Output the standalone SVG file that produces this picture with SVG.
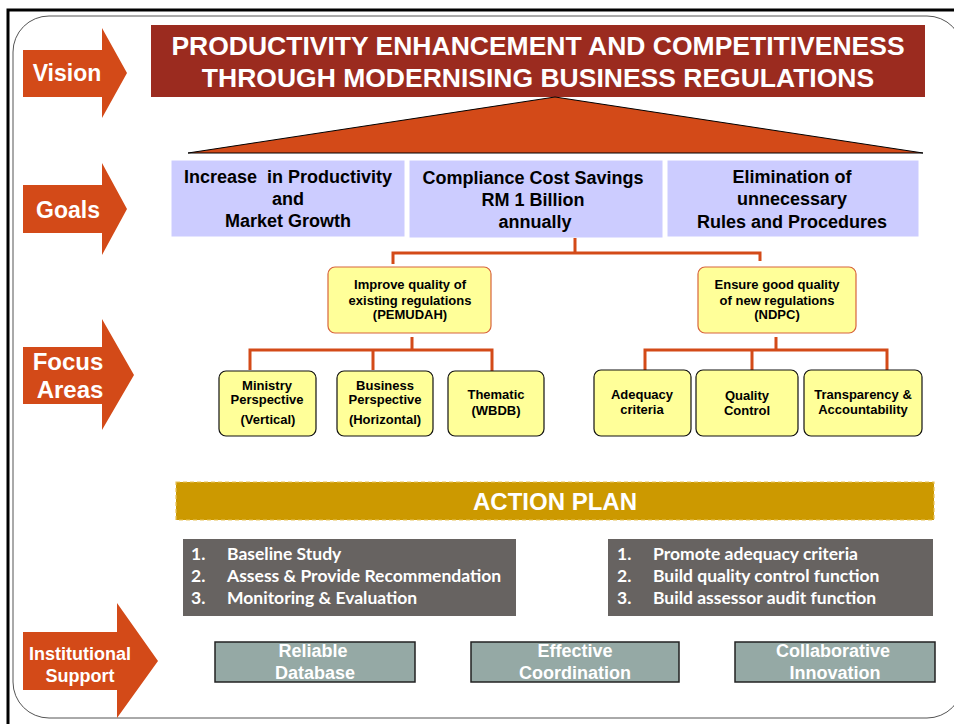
<svg xmlns="http://www.w3.org/2000/svg" width="954" height="724" viewBox="0 0 954 724">
<style>
.arrow{fill:#D34A18}
.lbl{font-family:"Liberation Sans",Arial,sans-serif;font-weight:bold;fill:#fff;text-anchor:middle}
.goal{fill:#CCCCFF;stroke:#fff;stroke-width:1}
.gt{font-family:"Liberation Sans",Arial,sans-serif;font-weight:bold;font-size:18px;fill:#000;text-anchor:middle;white-space:pre}
.fa{fill:#FFFF99;stroke:#D8643C;stroke-width:1.2}
.fb{fill:#FFFF99;stroke:#111;stroke-width:1.2}
.ft{font-family:"Liberation Sans",Arial,sans-serif;font-weight:bold;font-size:13px;fill:#000;text-anchor:middle}
.conn{fill:none;stroke:#D34A18;stroke-width:3}
.gray{fill:#676361}
.gtx{font-family:Lato,"Open Sans",sans-serif;font-weight:bold;font-size:17.5px;fill:#fff}
.inst{fill:#95A9A5;stroke:#222;stroke-width:1.5}
.it{font-family:"Liberation Sans",Arial,sans-serif;font-weight:bold;font-size:18px;fill:#fff;text-anchor:middle}
</style>
<rect x="0" y="0" width="954" height="724" fill="#fff"/>
<rect x="8" y="10" width="1000" height="800" fill="none" stroke="#000" stroke-width="3"/>
<rect x="13" y="16" width="950" height="702" rx="36" ry="36" fill="#fff" stroke="#555" stroke-width="1"/>

<g id="vision-arrow">
<polygon class="arrow" points="23,50 102,50 102,28 127,73 102,118 102,97 23,97"/>
<text class="lbl" x="67" y="81" font-size="23">Vision</text>
</g>
<g id="goals-arrow">
<polygon class="arrow" points="23,185 102,185 102,163 127,209 102,255 102,233 23,233"/>
<text class="lbl" x="68" y="218" font-size="23">Goals</text>
</g>
<g id="focus-arrow">
<polygon class="arrow" points="23,347 102,347 102,319 134,375 102,430 102,404 23,404"/>
<text class="lbl" x="68" y="370" font-size="24">Focus</text>
<text class="lbl" x="70" y="398" font-size="24">Areas</text>
</g>
<g id="institutional-arrow">
<polygon class="arrow" points="23,632 117,632 117,603 158,661 117,718 117,690 23,690"/>
<text class="lbl" x="80" y="660" font-size="18">Institutional</text>
<text class="lbl" x="80" y="682" font-size="18">Support</text>
</g>

<g id="vision">
<rect x="151" y="25" width="774" height="72" fill="#9B2B1F"/>
<text class="lbl" x="538" y="55" font-size="26.5">PRODUCTIVITY ENHANCEMENT AND COMPETITIVENESS</text>
<text class="lbl" x="538" y="87" font-size="26.5">THROUGH MODERNISING BUSINESS REGULATIONS</text>
</g>
<g id="triangle">
<polygon points="555,97 188,153 923,153" fill="#D34A18" stroke="#000" stroke-width="1"/>
</g>

<g id="goal1">
<rect class="goal" x="171" y="160" width="234" height="77"/>
<text class="gt" x="288" y="183" xml:space="preserve">Increase  in Productivity</text>
<text class="gt" x="288" y="205">and</text>
<text class="gt" x="288" y="227">Market Growth</text>
</g>
<g id="goal2">
<rect class="goal" x="409" y="160" width="254" height="78"/>
<text class="gt" x="533" y="184">Compliance Cost Savings</text>
<text class="gt" x="533" y="206">RM 1 Billion</text>
<text class="gt" x="535" y="228">annually</text>
</g>
<g id="goal3">
<rect class="goal" x="667" y="160" width="252" height="77"/>
<text class="gt" x="792" y="183">Elimination of</text>
<text class="gt" x="792" y="205">unnecessary</text>
<text class="gt" x="792" y="228">Rules and Procedures</text>
</g>

<g id="connectors">
<path class="conn" d="M575,238 V253 M393,253 H760 M393,251.5 V264 M760,251.5 V261"/>
<path class="conn" d="M412,337 V350 M250,350 H492 M250,348.5 V370 M373,348.5 V370 M492,348.5 V372"/>
<path class="conn" d="M776,337 V350 M645,350 H887 M645,348.5 V372 M752,348.5 V372 M887,348.5 V372"/>
</g>

<g id="pemudah">
<rect class="fa" x="328" y="267" width="163" height="66" rx="7"/>
<text class="ft" x="410" y="289">Improve quality of</text>
<text class="ft" x="410" y="305">existing regulations</text>
<text class="ft" x="410" y="319">(PEMUDAH)</text>
</g>
<g id="ndpc">
<rect class="fa" x="698" y="267" width="158" height="66" rx="7"/>
<text class="ft" x="777" y="289">Ensure good quality</text>
<text class="ft" x="777" y="305">of new regulations</text>
<text class="ft" x="777" y="319">(NDPC)</text>
</g>

<g id="ministry">
<rect class="fb" x="219" y="371" width="97" height="65" rx="7"/>
<text class="ft" x="267" y="390">Ministry</text>
<text class="ft" x="267" y="404">Perspective</text>
<text class="ft" x="268" y="424">(Vertical)</text>
</g>
<g id="business">
<rect class="fb" x="337" y="371" width="96" height="65" rx="7"/>
<text class="ft" x="385" y="390">Business</text>
<text class="ft" x="385" y="404">Perspective</text>
<text class="ft" x="385" y="424">(Horizontal)</text>
</g>
<g id="thematic">
<rect class="fb" x="448" y="371" width="96" height="65" rx="7"/>
<text class="ft" x="496" y="399">Thematic</text>
<text class="ft" x="496" y="415">(WBDB)</text>
</g>
<g id="adequacy">
<rect class="fb" x="594" y="370" width="97" height="66" rx="7"/>
<text class="ft" x="642" y="399">Adequacy</text>
<text class="ft" x="642" y="414">criteria</text>
</g>
<g id="quality">
<rect class="fb" x="696" y="370" width="102" height="66" rx="7"/>
<text class="ft" x="747" y="400">Quality</text>
<text class="ft" x="747" y="415">Control</text>
</g>
<g id="transparency">
<rect class="fb" x="804" y="370" width="118" height="66" rx="7"/>
<text class="ft" x="863" y="399">Transparency &amp;</text>
<text class="ft" x="863" y="414">Accountability</text>
</g>

<g id="action-plan">
<rect x="176" y="482" width="758" height="38" fill="#CC9900" stroke="#E8C35A" stroke-width="1.2" stroke-dasharray="4,3"/>
<text class="lbl" x="555" y="510" font-size="24">ACTION PLAN</text>
</g>

<g id="plan-left">
<rect class="gray" x="183" y="539" width="333" height="77"/>
<text class="gtx" x="191" y="560">1.</text>
<text class="gtx" x="227" y="560">Baseline Study</text>
<text class="gtx" x="191" y="582">2.</text>
<text class="gtx" x="227" y="582">Assess &amp; Provide Recommendation</text>
<text class="gtx" x="191" y="604">3.</text>
<text class="gtx" x="227" y="604">Monitoring &amp; Evaluation</text>
</g>
<g id="plan-right">
<rect class="gray" x="608" y="539" width="325" height="77"/>
<text class="gtx" x="617" y="560">1.</text>
<text class="gtx" x="653" y="560">Promote adequacy criteria</text>
<text class="gtx" x="617" y="582">2.</text>
<text class="gtx" x="653" y="582">Build quality control function</text>
<text class="gtx" x="617" y="604">3.</text>
<text class="gtx" x="653" y="604">Build assessor audit function</text>
</g>

<g id="reliable">
<rect class="inst" x="215" y="642" width="200" height="40"/>
<text class="it" x="313" y="657">Reliable</text>
<text class="it" x="315" y="679">Database</text>
</g>
<g id="effective">
<rect class="inst" x="471" y="642" width="208" height="40"/>
<text class="it" x="575" y="657">Effective</text>
<text class="it" x="575" y="679">Coordination</text>
</g>
<g id="collaborative">
<rect class="inst" x="735" y="642" width="200" height="40"/>
<text class="it" x="833" y="657">Collaborative</text>
<text class="it" x="835" y="679">Innovation</text>
</g>
</svg>
